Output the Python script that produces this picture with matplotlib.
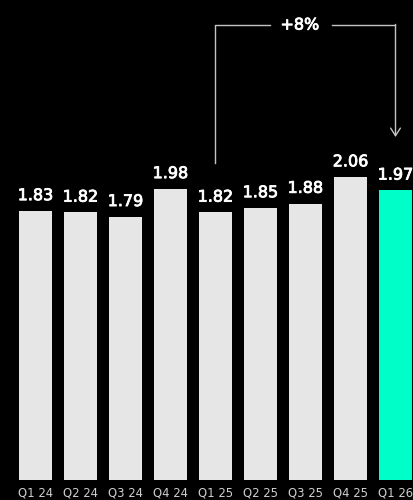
import matplotlib.pyplot as plt
import matplotlib.patheffects as pe

quarters = ["Q1 24", "Q2 24", "Q3 24", "Q4 24", "Q1 25", "Q2 25", "Q3 25", "Q4 25", "Q1 26"]
values = [1.83, 1.82, 1.79, 1.98, 1.82, 1.85, 1.88, 2.06, 1.97]

BAR = "#e6e6e6"
HIGHLIGHT = "#00ffc8"
LINE = "#c4c4c4"

plt.rcParams["font.family"] = ["DejaVu Sans"]
# slightly heavier than DejaVu regular
heavy = [pe.withStroke(linewidth=0.6, foreground="white")]

fig = plt.figure(figsize=(4.13, 5.0), dpi=100)
fig.set_facecolor("black")
ax = fig.add_axes([0, 20 / 500, 1, 480 / 500])
ax.set_facecolor("black")

x = list(range(len(values)))
colors = [BAR] * (len(values) - 1) + [HIGHLIGHT]
ax.bar(x, values, width=0.733, color=colors)

for xi, v in zip(x, values):
    ax.annotate(f"{v:.2f}", (xi, v), xytext=(0, 7.8), textcoords="offset points",
                ha="center", va="baseline", color="white", fontsize=11.5,
                path_effects=heavy)

ax.set_xlim(-0.789, 8.389)
ax.set_ylim(0, 480 / 147)
ax.set_xticks(x)
ax.set_xticklabels(quarters, color="#cfcfcf", fontsize=8.4)
ax.tick_params(axis="x", length=0, pad=4.8)
ax.set_yticks([])
for s in ax.spines.values():
    s.set_visible(False)

# growth bracket from Q1 25 to Q1 26
i0, i1 = 4, 8
top = 3.095
change = values[i1] / values[i0] - 1
ax.plot([i0, i0, 5.22], [2.156, top, top], color=LINE, lw=1.0)
ax.plot([6.58, i1], [top, top], color=LINE, lw=1.0)
ax.annotate("", xy=(i1, 2.333), xytext=(i1, top + 0.004),
            arrowprops=dict(arrowstyle="->,head_length=0.55,head_width=0.35",
                            color=LINE, lw=1.0, shrinkA=0, shrinkB=0))
ax.text(5.878, top, f"+{change * 100:.0f}%", ha="center", va="center",
        color="white", fontsize=11.5, path_effects=heavy)

fig.savefig("out.png", dpi=100, facecolor="black")
